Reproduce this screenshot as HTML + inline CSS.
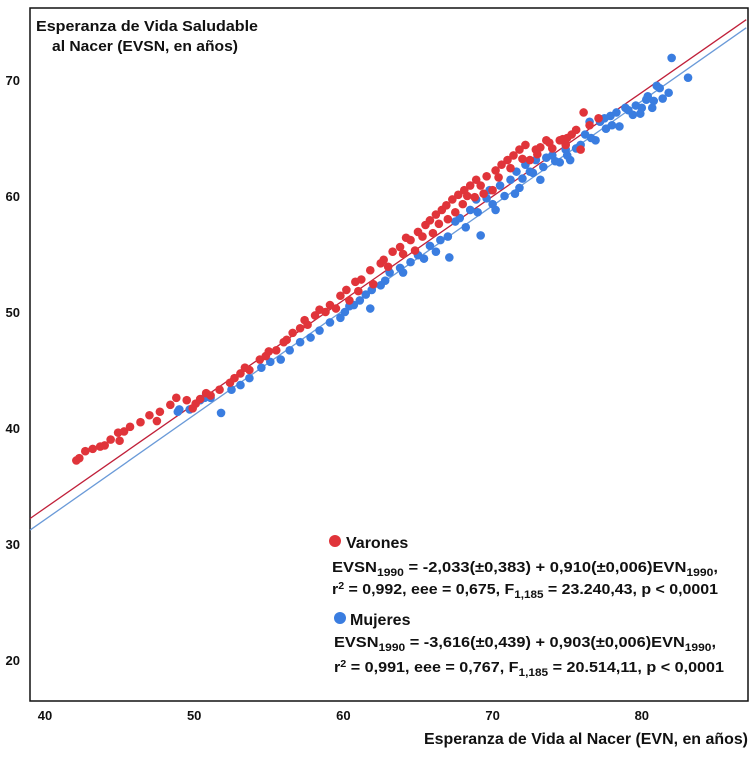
<!DOCTYPE html>
<html><head><meta charset="utf-8"><style>
html,body{margin:0;padding:0;background:#fff;}
svg text{font-family:"Liberation Sans",Arial,sans-serif;font-weight:bold;fill:#111;}
</style></head><body>
<svg id="chart" width="754" height="754" xmlns="http://www.w3.org/2000/svg">
<rect x="30" y="8" width="718" height="693" fill="#fff" stroke="#111" stroke-width="1.5"/>
<g id="lines"></g>
<g id="pts"></g>
<g id="ticks"></g>
<text x="36" y="31" font-size="15" textLength="222" lengthAdjust="spacingAndGlyphs">Esperanza de Vida Saludable</text>
<text x="52" y="51" font-size="15" textLength="186" lengthAdjust="spacingAndGlyphs">al Nacer (EVSN, en años)</text>
<text x="424" y="744" font-size="16" textLength="324" lengthAdjust="spacingAndGlyphs">Esperanza de Vida al Nacer (EVN, en años)</text>
<g>
<circle cx="335" cy="541" r="6" fill="#e0343a"/>
<text x="346" y="548" font-size="16">Varones</text>
<text x="332" y="572" font-size="15" textLength="386" lengthAdjust="spacingAndGlyphs">EVSN<tspan font-size="11" dy="4">1990</tspan><tspan dy="-4"> = -2,033(±0,383) + 0,910(±0,006)EVN</tspan><tspan font-size="11" dy="4">1990</tspan><tspan dy="-4">,</tspan></text>
<text x="332" y="594" font-size="15" textLength="386" lengthAdjust="spacingAndGlyphs">r<tspan font-size="10" dy="-5">2</tspan><tspan dy="5"> = 0,992, eee = 0,675, F</tspan><tspan font-size="11" dy="4">1,185</tspan><tspan dy="-4"> = 23.240,43, p &lt; 0,0001</tspan></text>
</g>
<g>
<circle cx="340" cy="618" r="6" fill="#3a7de0"/>
<text x="350" y="625" font-size="16">Mujeres</text>
<text x="334" y="647" font-size="15" textLength="382" lengthAdjust="spacingAndGlyphs">EVSN<tspan font-size="11" dy="4">1990</tspan><tspan dy="-4"> = -3,616(±0,439) + 0,903(±0,006)EVN</tspan><tspan font-size="11" dy="4">1990</tspan><tspan dy="-4">,</tspan></text>
<text x="334" y="672" font-size="15" textLength="390" lengthAdjust="spacingAndGlyphs">r<tspan font-size="10" dy="-5">2</tspan><tspan dy="5"> = 0,991, eee = 0,767, F</tspan><tspan font-size="11" dy="4">1,185</tspan><tspan dy="-4"> = 20.514,11, p &lt; 0,0001</tspan></text>
</g>
</svg>
<script>
const xTicks=[40,50,60,70,80];
const yTicks=[20,30,40,50,60,70];
const redX=[42.1,42.3,42.7,43.2,43.7,44.0,44.4,44.9,45.3,45.7,46.4,47.0,47.7,48.4,48.8,49.5,49.9,50.1,50.4,51.1,51.7,52.4,52.7,53.1,53.7,54.4,54.8,55.5,56.2,56.6,57.1,57.4,58.1,58.4,59.1,59.8,60.2,60.4,60.8,61.2,61.8,62.5,62.7,63.3,63.8,64.2,64.5,65.0,65.5,65.8,66.2,66.6,66.9,67.3,67.7,68.1,68.5,68.9,69.2,69.6,70.0,70.2,70.6,71.0,71.4,71.8,72.2,72.5,72.9,73.2,73.6,74.0,74.5,74.9,75.3,75.6,75.9,76.1,76.5,77.1,
 55.0,56.0,57.6,58.8,59.5,61.0,62.0,63.0,64.0,64.8,65.3,66.0,66.4,67.0,67.5,68.0,68.3,68.8,69.4,70.4,71.2,72.0,73.0,73.8,74.7,75.0,53.4,50.8,47.5,45.0];
const redY=[37.2,37.4,38.0,38.2,38.4,38.5,39.0,39.6,39.7,40.1,40.5,41.1,41.4,42.0,42.6,42.4,41.7,42.1,42.5,42.8,43.3,43.9,44.3,44.7,45.0,45.9,46.2,46.7,47.6,48.2,48.6,49.3,49.7,50.2,50.6,51.4,51.9,51.0,52.6,52.8,53.6,54.2,54.5,55.2,55.6,56.4,56.2,56.9,57.5,57.9,58.4,58.8,59.2,59.7,60.1,60.5,60.9,61.4,60.9,61.7,60.5,62.2,62.7,63.1,63.5,64.0,64.4,63.1,64.0,64.2,64.8,64.1,64.8,64.4,65.3,65.7,64.0,67.2,66.1,66.7,
 46.6,47.4,48.9,50.0,50.3,51.8,52.4,53.9,55.0,55.3,56.5,56.8,57.6,58.0,58.6,59.3,60.0,59.9,60.2,61.6,62.4,63.2,63.6,64.6,64.9,65.0,45.2,43.0,40.6,38.9];
const blueX=[48.9,49.0,49.7,50.4,50.7,51.1,51.8,52.5,53.1,53.7,54.5,55.1,55.8,56.4,57.1,57.8,58.4,59.1,59.8,60.1,60.4,61.1,61.8,61.9,62.5,63.1,63.8,64.5,65.0,65.8,66.5,67.1,67.5,67.8,68.5,68.9,69.2,69.6,69.8,70.2,70.5,71.2,71.6,71.8,72.2,72.5,72.9,73.2,73.6,74.0,74.5,74.9,75.2,75.6,75.9,76.2,76.5,76.9,77.2,77.9,78.3,78.5,79.1,79.6,79.9,80.3,80.4,80.7,81.0,81.2,82.0,83.1,78.9,77.5,
 62.8,64.0,65.4,66.2,67.0,68.2,69.0,70.0,70.8,71.5,72.0,72.7,73.4,74.2,75.0,75.8,76.6,77.6,78.0,79.4,80.0,80.8,81.4,81.8,61.5,60.7];
const blueY=[41.4,41.6,41.6,42.4,42.6,42.6,41.3,43.3,43.7,44.3,45.2,45.7,45.9,46.7,47.4,47.8,48.4,49.1,49.5,50.0,50.5,51.0,50.3,51.9,52.3,53.4,53.8,54.3,54.9,55.7,56.2,54.7,57.8,58.1,58.8,59.7,56.6,59.8,60.5,58.8,60.9,61.4,62.1,60.7,62.7,62.1,63.1,61.4,63.3,63.5,62.9,64.0,63.1,64.1,64.4,65.3,66.4,64.8,66.4,66.9,67.2,66.0,67.4,67.8,67.1,68.3,68.6,67.6,69.5,69.3,71.9,70.2,67.6,66.7,
 52.7,53.4,54.6,55.2,56.5,57.3,58.6,59.3,60.0,60.2,61.5,62.0,62.5,63.0,63.5,64.2,65.0,65.8,66.1,67.0,67.6,68.2,68.4,68.9,51.5,50.6];
const redLineX=[39.0,87.0];
const redLineY=[32.2,75.2];
const blueLineX=[39.0,87.0];
const blueLineY=[31.2,74.5];
const NS="http://www.w3.org/2000/svg";
const sx=v=>45+(v-40)*14.92;
const sy=v=>80-(v-70)*11.6;
const tk=document.getElementById('ticks');
xTicks.forEach(t=>{
  const e=document.createElementNS(NS,'text');
  e.setAttribute('x',sx(t));e.setAttribute('y',720);e.setAttribute('font-size','13');e.setAttribute('text-anchor','middle');
  e.textContent=t;
  
  
  tk.appendChild(e);
});
yTicks.forEach(t=>{
  const e=document.createElementNS(NS,'text');
  e.setAttribute('x',20);e.setAttribute('y',sy(t)+5);e.setAttribute('font-size','13');e.setAttribute('text-anchor','end');
  e.textContent=t;
  
  
  tk.appendChild(e);
});
const lg=document.getElementById('lines');
function line(xs,ys,col,name){
  const l=document.createElementNS(NS,'line');
  l.setAttribute('x1',sx(xs[0]));l.setAttribute('y1',sy(ys[0]));
  l.setAttribute('x2',sx(xs[1]));l.setAttribute('y2',sy(ys[1]));
  l.setAttribute('stroke',col);l.setAttribute('stroke-width','1.3');
  
  
  lg.appendChild(l);
}
line(redLineX,redLineY,'#c0203a','regression-line-varones');
line(blueLineX,blueLineY,'#6a9ad8','regression-line-mujeres');
const pg=document.getElementById('pts');
function pts(xs,ys,col,name){
  xs.forEach((x,i)=>{
    const c=document.createElementNS(NS,'circle');
    c.setAttribute('cx',sx(x));c.setAttribute('cy',sy(ys[i]));c.setAttribute('r',4.3);
    c.setAttribute('fill',col);
    
    
    pg.appendChild(c);
  });
}
pts(blueX,blueY,'#3a7de0','point-mujeres');
pts(redX,redY,'#e0343a','point-varones');
</script>
</body></html>
